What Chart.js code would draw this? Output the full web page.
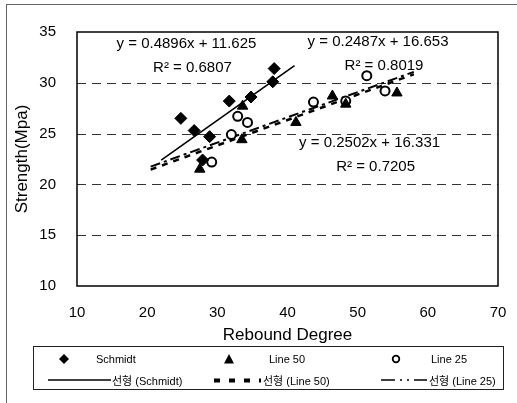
<!DOCTYPE html>
<html>
<head>
<meta charset="utf-8">
<script src="https://cdn.jsdelivr.net/npm/chart.js@4.4.0/dist/chart.umd.min.js"></script>
<style>
body { margin: 0; background: #fff; }
#wrap { position: relative; width: 517px; height: 403px; overflow: hidden; font-family: 'Liberation Sans', Arial, 'Noto Sans CJK KR', sans-serif; }
#frame { position: absolute; left: 6px; top: 4px; width: 700px; height: 700px; border: 1px solid #666; }
#chart { position: absolute; left: 0; top: 0; }
#legend { position: absolute; left: 33px; top: 346px; width: 469px; height: 42px; border: 1px solid #222; font-size: 11px; color: #000; }
#legend .item { position: absolute; height: 14px; display: flex; align-items: center; white-space: nowrap; }
#legend svg { display: block; }
</style>
</head>
<body>
<div id="wrap">
  <div id="frame"></div>
  <canvas id="chart" width="517" height="403"></canvas>
  <div id="legend"></div>
</div>
<script>
// Data
const schmidtX = [24.8, 26.7, 27.9, 28.9, 31.7, 34.8, 37.9, 38.1];
const schmidtY = [26.5, 25.3, 22.4, 24.7, 28.2, 28.6, 30.1, 31.4];
const line50X = [27.5, 33.5, 33.6, 41.2, 46.4, 48.3, 55.6];
const line50Y = [21.5, 24.4, 27.7, 26.1, 28.7, 27.9, 29.0];
const line25X = [29.2, 32.0, 32.9, 34.3, 43.7, 48.3, 51.3, 53.9];
const line25Y = [22.2, 24.9, 26.7, 26.1, 28.1, 28.2, 30.7, 29.2];

// Trend lines (Excel linear fits) in the order Schmidt, Line 50, Line 25
const seriesNames = ['Schmidt', 'Line 50', 'Line 25'];
const trendSlope = [0.4896, 0.2502, 0.2487];
const trendIntercept = [11.625, 16.331, 16.653];
const trendR2 = ['0.6807', '0.7205', '0.8019'];
const trendFrom = [22, 20.5, 20.5];
const trendTo = [41, 58, 58];

const xTicks = [10, 20, 30, 40, 50, 60, 70];
const yTicks = [10, 15, 20, 25, 30, 35];

const pts = (xs, ys) => xs.map((x, i) => ({ x: x, y: ys[i] }));
const trend = i => [trendFrom[i], trendTo[i]].map(x => ({ x: x, y: trendSlope[i] * x + trendIntercept[i] }));

const FONT = "'Liberation Sans', Arial, sans-serif";

// dashed horizontal grid, equations and plot frame
const extras = {
    id: 'extras',
    beforeDatasetsDraw(chart) {
        const { ctx, chartArea: a, scales: { y } } = chart;
        ctx.save();
        ctx.strokeStyle = '#333';
        ctx.lineWidth = 1;
        ctx.setLineDash([9, 6]);
        yTicks.slice(1, -1).forEach(v => {
            const py = Math.round(y.getPixelForValue(v)) + 0.5;
            ctx.beginPath();
            ctx.moveTo(a.left, py);
            ctx.lineTo(a.right, py);
            ctx.stroke();
        });
        ctx.restore();
    },
    afterDatasetsDraw(chart) {
        const { ctx, chartArea: a, scales: { x, y } } = chart;
        // where each equation sits, in data units: [x, y] of the y= line
        const spots = [[25.6, 33.8], [51.7, 24.1], [52.9, 34.0]];
        ctx.save();
        ctx.fillStyle = '#000';
        ctx.font = '15px ' + FONT;
        ctx.textAlign = 'center';
        ctx.textBaseline = 'middle';
        spots.forEach((s, i) => {
            const px = x.getPixelForValue(s[0]);
            const py = y.getPixelForValue(s[1]);
            ctx.fillText(`y = ${trendSlope[i]}x + ${trendIntercept[i]}`, px, py);
            ctx.fillText(`R\u00B2 = ${trendR2[i]}`, px + 6, py + 24);
        });
        ctx.lineWidth = 1.5;
        ctx.strokeStyle = '#000';
        ctx.strokeRect(a.left, a.top, a.right - a.left, a.bottom - a.top);
        ctx.restore();
    }
};

new Chart(document.getElementById('chart'), {
    type: 'scatter',
    data: {
        datasets: [
            { label: seriesNames[0], data: pts(schmidtX, schmidtY), pointStyle: 'rectRot', pointRadius: 6,
              backgroundColor: '#000', borderColor: '#000', borderWidth: 1 },
            { label: seriesNames[1], data: pts(line50X, line50Y), pointStyle: 'triangle', pointRadius: 6,
              backgroundColor: '#000', borderColor: '#000', borderWidth: 1 },
            { label: seriesNames[2], data: pts(line25X, line25Y), pointStyle: 'circle', pointRadius: 4.5,
              backgroundColor: '#fff', borderColor: '#000', borderWidth: 2 },
            { label: '선형 (' + seriesNames[0] + ')', data: trend(0), showLine: true, pointRadius: 0,
              borderColor: '#000', borderWidth: 1.6 },
            { label: '선형 (' + seriesNames[1] + ')', data: trend(1), showLine: true, pointRadius: 0,
              borderColor: '#000', borderWidth: 2.5, borderDash: [6, 6] },
            { label: '선형 (' + seriesNames[2] + ')', data: trend(2), showLine: true, pointRadius: 0,
              borderColor: '#000', borderWidth: 2, borderDash: [10, 4, 3, 4] }
        ]
    },
    options: {
        responsive: false,
        animation: false,
        events: [],
        layout: { padding: { left: 0, top: 32, right: 19, bottom: 0 } },
        plugins: { legend: { display: false }, tooltip: { enabled: false } },
        scales: {
            x: {
                type: 'linear', min: 10, max: 70,
                afterBuildTicks: s => { s.ticks = xTicks.map(v => ({ value: v })); },
                afterFit: s => { s.height = 117; },
                grid: { display: false },
                border: { display: false },
                ticks: { color: '#000', padding: 10, font: { family: FONT, size: 15 } },
                title: { display: true, text: 'Rebound Degree', color: '#000',
                         font: { family: FONT, size: 17 }, padding: { top: 0, bottom: 57 } }
            },
            y: {
                type: 'linear', min: 10, max: 35,
                afterBuildTicks: s => { s.ticks = yTicks.map(v => ({ value: v })); },
                afterFit: s => { s.width = 77; },
                grid: { display: false },
                border: { display: false },
                ticks: { color: '#000', padding: 13, font: { family: FONT, size: 15 } },
                title: { display: true, text: 'Strength(Mpa)', color: '#000',
                         font: { family: FONT, size: 17 }, padding: { top: 12, bottom: 0 } }
            }
        }
    },
    plugins: [extras]
});

// legend in two rows of three, like the original
const icons = [
    '<svg width="10" height="10"><polygon points="5,0 10,5 5,10 0,5" fill="#000"/></svg>',
    '<svg width="10" height="10"><polygon points="5,0 10,9.5 0,9.5" fill="#000"/></svg>',
    '<svg width="10" height="10"><circle cx="5" cy="5" r="3.3" fill="#fff" stroke="#000" stroke-width="1.8"/></svg>',
    '<svg width="63" height="4"><line x1="0" y1="2" x2="63" y2="2" stroke="#000" stroke-width="1.5"/></svg>',
    '<svg width="48" height="5"><line x1="1" y1="2.5" x2="48" y2="2.5" stroke="#000" stroke-width="4" stroke-dasharray="6,9"/></svg>',
    '<svg width="46" height="4"><line x1="0" y1="2" x2="46" y2="2" stroke="#000" stroke-width="1.5" stroke-dasharray="14,5,2,5,2,5"/></svg>'
];
const legendSpots = [[25, 5, 62], [190, 5, 235], [357, 5, 397], [14, 26, 78], [179, 26, 229], [347, 26, 395]];
const legend = document.getElementById('legend');
const labels = seriesNames.concat(seriesNames.map(n => '선형 (' + n + ')'));
labels.forEach((text, i) => {
    const [iconLeft, top, textLeft] = legendSpots[i];
    const icon = document.createElement('div');
    icon.className = 'item';
    icon.style.left = iconLeft + 'px';
    icon.style.top = top + 'px';
    icon.innerHTML = icons[i];
    legend.appendChild(icon);
    const label = document.createElement('div');
    label.className = 'item';
    label.style.left = textLeft + 'px';
    label.style.top = top + 'px';
    label.textContent = text;
    legend.appendChild(label);
});
</script>
</body>
</html>
